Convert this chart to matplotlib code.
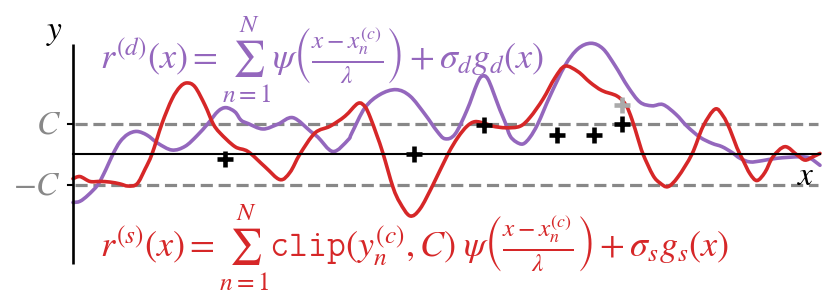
import numpy as np
import matplotlib
matplotlib.use("Agg")
import matplotlib.pyplot as plt
from matplotlib.path import Path
from matplotlib.patches import PathPatch

plt.rcParams['mathtext.fontset'] = 'stix'

# ---- data (x in arbitrary units along the axis, y in units of C) ----
purple_x = [0, 7, 15, 25, 33, 40, 47, 55, 64, 74, 85, 99, 112, 124, 135, 145, 153,
            162, 168, 175, 190, 205, 220, 238, 245, 260, 275, 279, 292, 307, 323, 337,
            352, 364, 372, 382, 394, 404, 409, 415, 424, 427, 432, 437, 443, 450, 457,
            465, 477, 492, 505, 518, 530, 542, 555, 567, 579, 590, 603, 614, 627, 639,
            649, 659, 667, 677, 689, 704, 727, 737, 747]
purple_y = [-1.59, -1.55, -1.35, -1.0, -0.5, 0.0, 0.4, 0.65, 0.74, 0.62, 0.35, 0.13, 0.25,
            0.6, 1.0, 1.4, 1.52, 1.38, 1.11, 1.0, 0.82, 0.98, 1.19, 0.73, 0.55, 0.08, 0.46,
            0.7, 1.52, 1.95, 2.11, 1.9, 1.3, 0.75, 0.5, 0.65, 1.44, 2.3, 2.55, 2.45, 1.7,
            1.44, 1.05, 0.6, 0.4, 0.33, 0.55, 1.0, 1.9, 2.9, 3.45, 3.63, 3.45, 2.9, 2.2,
            1.7, 1.58, 1.62, 1.3, 0.91, 0.55, 0.35, 0.24, 0.05, -0.14, -0.26, -0.22,
            -0.14, -0.09, -0.14, -0.37]

red_x = [0, 7, 17, 27, 37, 47, 55, 64, 72, 79, 89, 99, 107, 114, 122, 132, 140, 147,
         162, 175, 192, 207, 217, 227, 242, 257, 272, 285, 292, 297, 304, 310, 320, 327,
         337, 347, 360, 375, 385, 394, 402, 412, 420, 433, 447, 457, 470, 482, 492, 505,
         517, 529, 544, 553, 559, 565, 570, 580, 587, 595, 605, 619, 630, 642, 650, 657,
         664, 670, 677, 684, 692, 700, 712, 724, 732, 740, 747]
red_y = [-0.81, -0.74, -0.9, -0.9, -0.92, -0.98, -1.05, -0.98, -0.5, 0.0, 1.0, 1.8, 2.2,
         2.33, 2.2, 1.6, 1.0, 0.69, 0.24, 0.08, -0.42, -0.84, -0.6, 0.0, 0.69, 0.91, 1.24,
         1.66, 1.55, 1.22, 0.6, 0.02, -1.09, -1.6, -2.03, -1.8, -1.01, 0.0, 0.55, 0.91,
         1.06, 1.0, 0.91, 0.86, 0.91, 1.2, 1.8, 2.5, 2.88, 2.7, 2.35, 2.08, 1.9, 1.6,
         1.13, 0.5, 0.0, -0.7, -0.95, -1.07, -0.75, 0.0, 0.9, 1.47, 1.25, 0.8, 0.2,
         -0.2, -0.65, -0.87, -0.6, -0.09, 0.24, -0.03, -0.2, -0.09, 0.02]

plus_x = [152, 341, 411, 484, 521, 549]
plus_y = [-0.18, 0.0, 0.94, 0.63, 0.63, 1.0]
gray_plus_x = [549]
gray_plus_y = [1.6]

C = 1.0
x_end = 747

purple = '#9467bd'
red = '#d62728'
gray = '#888888'


def smooth_path(xs, ys):
    pts = np.column_stack([xs, ys]).astype(float)
    verts = [pts[0]]
    codes = [Path.MOVETO]
    n = len(pts)
    for i in range(n - 1):
        p0 = pts[i - 1] if i > 0 else pts[i]
        p1 = pts[i]
        p2 = pts[i + 1]
        p3 = pts[i + 2] if i + 2 < n else pts[i + 1]
        c1 = p1 + (p2 - p0) / 6.0
        c2 = p2 - (p3 - p1) / 6.0
        verts += [c1, c2, p2]
        codes += [Path.CURVE4] * 3
    return Path(verts, codes)


fig = plt.figure(figsize=(8.31, 2.98), dpi=100)
ax = fig.add_axes([0, 0, 1, 1])
ax.set_xlim(-73, 758)
ax.set_ylim(-4.721, 5.049)
ax.axis('off')

# axes
ax.plot([0, 0], [-3.6, 3.6], color='black', lw=1.9, solid_capstyle='butt', zorder=3)
ax.plot([0, x_end], [0, 0], color='black', lw=1.5, zorder=3)
# ticks at C and -C
for yv in (C, -C):
    ax.plot([-5, 0], [yv, yv], color='black', lw=1.5, zorder=3)
    ax.plot([2, x_end - 2], [yv, yv], color=gray, lw=2.3, dashes=(3.8, 1.8), zorder=1)

for xs, ys, col in ((purple_x, purple_y, purple), (red_x, red_y, red)):
    patch = PathPatch(smooth_path(xs, ys), facecolor='none', edgecolor=col, lw=2.6,
                      capstyle='round', joinstyle='round', zorder=2)
    ax.add_patch(patch)

ax.plot(gray_plus_x, gray_plus_y, '+', color='#aaaaaa', ms=11, mew=3.3, zorder=4)
ax.plot(plus_x, plus_y, '+', color='black', ms=11, mew=3.3, zorder=5)

ax.text(-18, 4.0, r'$y$', fontsize=24, ha='center', va='center')
ax.text(733, -0.69, r'$x$', fontsize=24, ha='center', va='center')
ax.text(-12, C, r'$C$', fontsize=24, ha='right', va='center', color=gray)
ax.text(-12, -C, r'$-C$', fontsize=24, ha='right', va='center', color=gray)

ax.text(27, 3.08,
        r'$r^{(d)}(x) = \sum_{n=1}^{N} \psi\left(\frac{x - x_n^{(c)}}{\lambda}\right) + \sigma_d g_d(x)$',
        fontsize=26, ha='left', va='center', color=purple)
ax.text(27, -3.07,
        r'$r^{(s)}(x) = \sum_{n=1}^{N} \mathtt{clip}(y_n^{(c)}, C)\; \psi\left(\frac{x - x_n^{(c)}}{\lambda}\right) + \sigma_s g_s(x)$',
        fontsize=26, ha='left', va='center', color=red)

fig.savefig('out.png', dpi=100)
